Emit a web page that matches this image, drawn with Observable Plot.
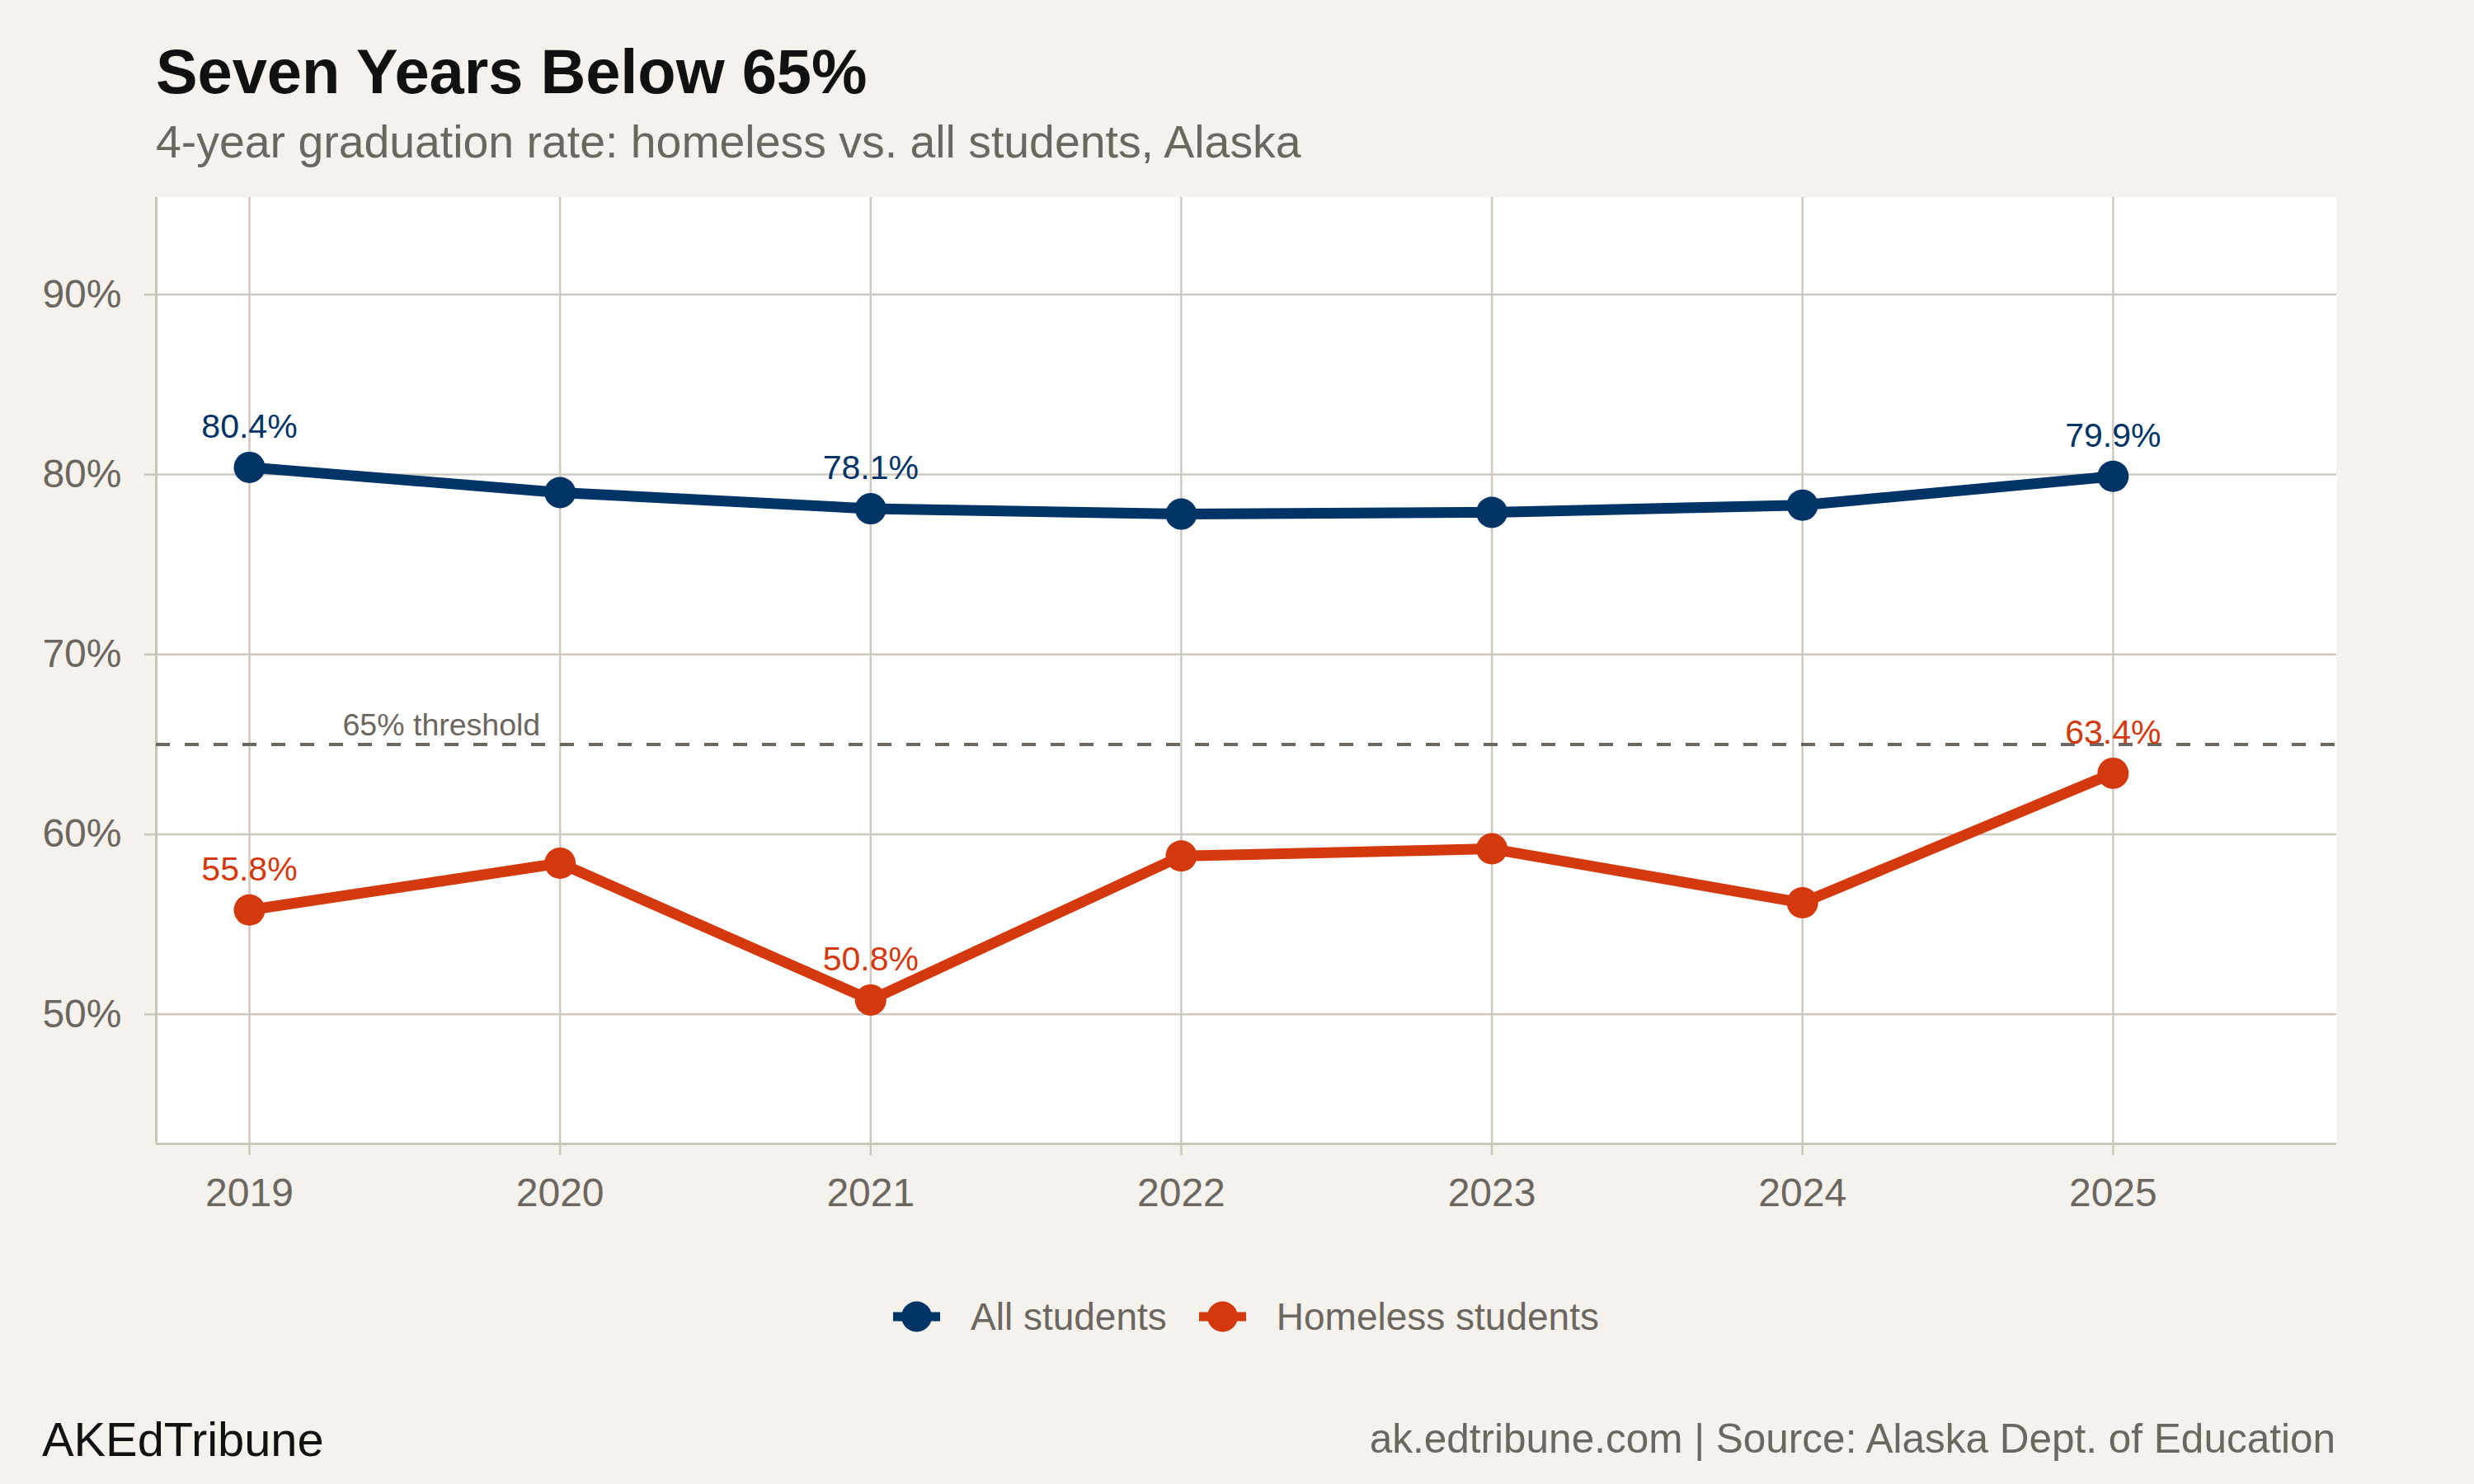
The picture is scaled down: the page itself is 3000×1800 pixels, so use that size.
<!DOCTYPE html>
<html>
<head>
<meta charset="utf-8">
<script src="https://cdn.jsdelivr.net/npm/d3@7"></script>
<script src="https://cdn.jsdelivr.net/npm/@observablehq/plot@0.6"></script>
<style>
  html, body { margin: 0; padding: 0; }
  body { width: 3000px; height: 1800px; background: #F5F2ED; position: relative; overflow: hidden;
         font-family: "Liberation Sans", Arial, Helvetica, sans-serif; }
  .abs { position: absolute; white-space: nowrap; line-height: 1; }
  #title { left: 189px; top: 49px; font-size: 75.8px; font-weight: bold; color: #111111; }
  #subtitle { left: 189px; top: 145px; font-size: 55.4px; color: #6B6660; }
  #chart { position: absolute; left: 0; top: 200px; }
  #legend { position: absolute; top: 1572px; left: 0; width: 3000px; height: 50px; display: flex; justify-content: center; align-items: center; }
  .item { display: flex; align-items: center; font-size: 46px; color: #6B6660; line-height: 1; }
  .item svg { margin-right: 37px; }
  .item + .item { margin-left: 39px; }
  #brand { left: 51px; top: 1718px; font-size: 57.8px; color: #111111; }
  #source { right: 168px; top: 1720px; font-size: 49.5px; color: #6B6660; }
</style>
</head>
<body>
<div id="title" class="abs">Seven Years Below 65%</div>
<div id="subtitle" class="abs">4-year graduation rate: homeless vs. all students, Alaska</div>
<div id="chart"></div>
<div id="legend"></div>
<div id="brand" class="abs">AKEdTribune</div>
<div id="source" class="abs">ak.edtribune.com | Source: Alaska Dept. of Education</div>
<script>
// ---- data ----
const years = [2019, 2020, 2021, 2022, 2023, 2024, 2025];
const allStudents = [80.4, 79.0, 78.1, 77.8, 77.9, 78.3, 79.9];
const homelessStudents = [55.8, 58.4, 50.8, 58.8, 59.2, 56.2, 63.4];
const seriesNames = ["All students", "Homeless students"];
const seriesColors = ["#003366", "#D4380D"];
const labelYears = [2019, 2021, 2025];
const yTicks = [50, 60, 70, 80, 90];
const threshold = 65;
const thresholdLabel = "65% threshold";
const thresholdLabelYear = 2019.3;
const xDomain = [2018.7, 2025.72];
const yDomain = [42.8, 95.4];

// ---- build table ----
const rows = [];
years.forEach((yr, i) => {
  rows.push({year: yr, value: allStudents[i], series: seriesNames[0]});
  rows.push({year: yr, value: homelessStudents[i], series: seriesNames[1]});
});
const labelRows = rows.filter(d => labelYears.includes(d.year));

const gridColor = "#CFC8C0";
const axisColor = "#CCC5BC";
const textGray = "#6B6660";

const chart = Plot.plot({
  width: 3000,
  height: 1270,
  marginTop: 39,
  marginBottom: 83,
  marginLeft: 189,
  marginRight: 167,
  style: {background: "transparent", fontFamily: "'Liberation Sans', Arial, Helvetica, sans-serif", overflow: "visible"},
  x: {type: "linear", domain: xDomain},
  y: {domain: yDomain},
  color: {domain: seriesNames, range: seriesColors},
  marks: [
    Plot.frame({fill: "white", stroke: "none"}),
    Plot.gridY(yTicks, {stroke: gridColor, strokeOpacity: 1, strokeWidth: 2.5}),
    Plot.gridX(years, {stroke: gridColor, strokeOpacity: 1, strokeWidth: 2.5}),
    Plot.ruleX([xDomain[0]], {stroke: axisColor, strokeWidth: 3}),
    Plot.ruleY([yDomain[0]], {stroke: axisColor, strokeWidth: 3}),
    Plot.axisY(yTicks, {tickSize: 14, tickPadding: 28, fontSize: 48, tickFormat: d => d + "%",
      stroke: axisColor, strokeWidth: 2.5, fill: textGray, label: null}),
    Plot.axisX(years, {tickSize: 14, tickPadding: 27, fontSize: 48, tickFormat: d => String(d),
      stroke: axisColor, strokeWidth: 2.5, fill: textGray, label: null}),
    Plot.ruleY([threshold], {stroke: textGray, strokeWidth: 4, strokeDasharray: "17,18"}),
    Plot.text([thresholdLabel], {x: () => thresholdLabelYear, y: () => threshold, text: d => d,
      textAnchor: "start", lineAnchor: "middle", dy: -23, fontSize: 37.5, fill: textGray}),
    Plot.line(rows, {x: "year", y: "value", stroke: "series", strokeWidth: 13, z: "series"}),
    Plot.dot(rows, {x: "year", y: "value", fill: "series", r: 19}),
    Plot.text(labelRows, {x: "year", y: "value", text: d => d.value.toFixed(1) + "%", fill: "series",
      dy: -49, lineAnchor: "middle", fontSize: 41})
  ]
});
document.getElementById("chart").appendChild(chart);

// ---- legend ----
const legend = document.getElementById("legend");
legend.style.left = "0px";
legend.style.width = (189 + (3000 - 167)) + "px"; // center on panel
seriesNames.forEach((name, i) => {
  const item = document.createElement("div");
  item.className = "item";
  item.innerHTML = `<svg width="57" height="40" viewBox="0 0 57 40">
    <line x1="0" y1="20" x2="57" y2="20" stroke="${seriesColors[i]}" stroke-width="11"/>
    <circle cx="28.5" cy="20" r="18.5" fill="${seriesColors[i]}"/></svg><span>${name}</span>`;
  legend.appendChild(item);
});
</script>
</body>
</html>
